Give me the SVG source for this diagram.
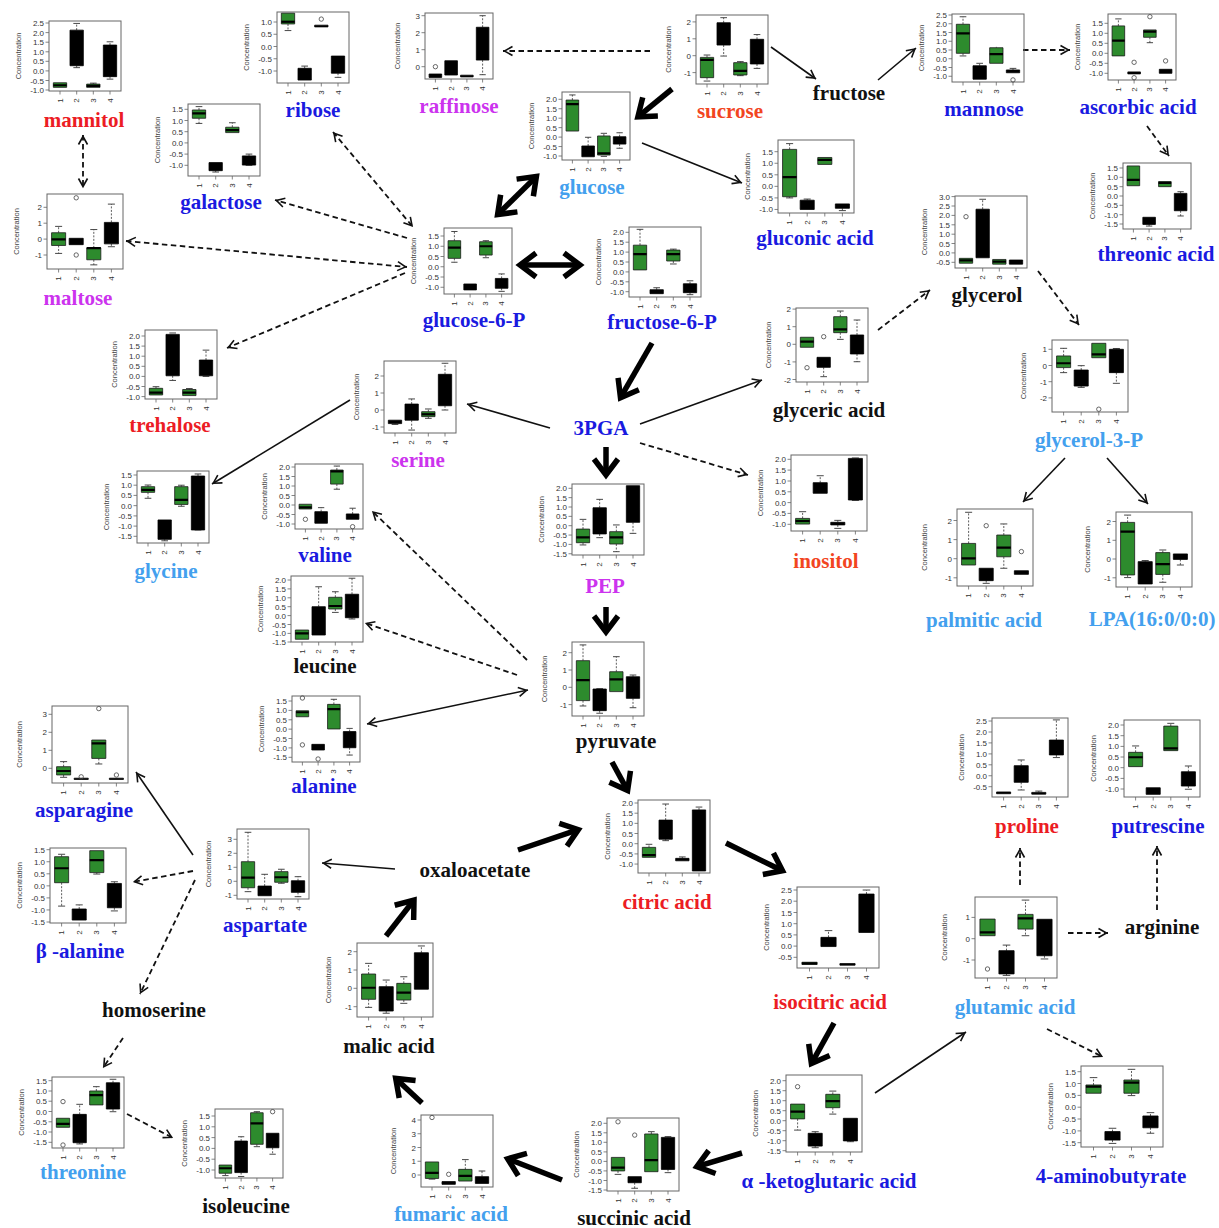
<svg xmlns="http://www.w3.org/2000/svg" width="1219" height="1228" viewBox="0 0 1219 1228">
<style>
.fr{fill:none;stroke:#666;stroke-width:1}
.tk{fill:none;stroke:#666;stroke-width:.8}
.yl,.xl,.cl,.yl tspan{font-family:"Liberation Sans",Arial,sans-serif;fill:#333;dominant-baseline:central}
.yl{font-size:8px;text-anchor:end}
.xl{font-size:8px;text-anchor:middle}
.cl{font-size:7.5px;text-anchor:middle;fill:#444}
.d path{vector-effect:non-scaling-stroke}
.w{fill:none;stroke:#333;stroke-width:.8;stroke-dasharray:2 1.5}
.s{fill:none;stroke:#333;stroke-width:.9}
.g{fill:#2d8b2d;stroke:#1a1a1a;stroke-width:.8}
.k{fill:#000;stroke:#000;stroke-width:.8}
.m{fill:none;stroke:#000;stroke-width:2.2}
.o{fill:none;stroke:#444;stroke-width:.8}
.lb{font-family:"Liberation Serif","Times New Roman",serif;font-weight:bold;font-size:21px;text-anchor:middle}
.red{fill:#ec1c24}.or{fill:#f2451f}.bl{fill:#1a1ae0}.lt{fill:#43a0ee}.mg{fill:#cc33ee}.bk{fill:#111}
.c{fill:none;stroke:#111;stroke-width:1.6}
.ds{stroke-dasharray:5.5 3.5;stroke-width:1.8}
.th{stroke:#000;stroke-width:5.5}
</style>
<defs>
<marker id="a" viewBox="-12 -7 14 14" refX="0" refY="0" markerWidth="14" markerHeight="14" markerUnits="userSpaceOnUse" orient="auto-start-reverse"><path d="M-9.5-4.5L-1.5 0L-9.5 4.5" fill="none" stroke="#111" stroke-width="1.6" stroke-dasharray="none"/></marker>
<marker id="A" viewBox="-22 -16 28 32" refX="0" refY="0" markerWidth="28" markerHeight="32" markerUnits="userSpaceOnUse" orient="auto-start-reverse"><path d="M-16-12L0 0L-16 12" fill="none" stroke="#000" stroke-width="5.5"/></marker>
<g id="x68"><path class="tk" d="M10.4 0v3.5M26.1 0v3.5M41.9 0v3.5M57.6 0v3.5"/><text class="xl" transform="translate(10.4 9.5)rotate(-90)">1</text><text class="xl" transform="translate(26.1 9.5)rotate(-90)">2</text><text class="xl" transform="translate(41.9 9.5)rotate(-90)">3</text><text class="xl" transform="translate(57.6 9.5)rotate(-90)">4</text></g>
<g id="x72"><path class="tk" d="M11 0v3.5M27.7 0v3.5M44.3 0v3.5M61 0v3.5"/><text class="xl" transform="translate(11 9.5)rotate(-90)">1</text><text class="xl" transform="translate(27.7 9.5)rotate(-90)">2</text><text class="xl" transform="translate(44.3 9.5)rotate(-90)">3</text><text class="xl" transform="translate(61 9.5)rotate(-90)">4</text></g>
<g id="x76"><path class="tk" d="M11.6 0v3.5M29.2 0v3.5M46.8 0v3.5M64.4 0v3.5"/><text class="xl" transform="translate(11.6 9.5)rotate(-90)">1</text><text class="xl" transform="translate(29.2 9.5)rotate(-90)">2</text><text class="xl" transform="translate(46.8 9.5)rotate(-90)">3</text><text class="xl" transform="translate(64.4 9.5)rotate(-90)">4</text></g>
<g id="x82"><path class="tk" d="M12.5 0v3.5M31.5 0v3.5M50.5 0v3.5M69.5 0v3.5"/><text class="xl" transform="translate(12.5 9.5)rotate(-90)">1</text><text class="xl" transform="translate(31.5 9.5)rotate(-90)">2</text><text class="xl" transform="translate(50.5 9.5)rotate(-90)">3</text><text class="xl" transform="translate(69.5 9.5)rotate(-90)">4</text></g>
</defs>
<rect width="1219" height="1228" fill="#fff"/>

<g id="connectors">
<path class="c th" marker-end="url(#A)" d="M672 89L637.9 116.8"/>
<path class="c th" marker-start="url(#A)" marker-end="url(#A)" d="M536.4 176.5L497.6 214.5"/>
<path class="c th" marker-start="url(#A)" marker-end="url(#A)" d="M520 265L580 265"/>
<path class="c th" marker-end="url(#A)" d="M652 343L620.5 397.7"/>
<path class="c th" marker-end="url(#A)" d="M606 447L606 475"/>
<path class="c th" marker-end="url(#A)" d="M606 607L606 632"/>
<path class="c th" marker-end="url(#A)" d="M612 762L627.6 790.6"/>
<path class="c th" marker-end="url(#A)" d="M726 843L782.5 870.8"/>
<path class="c th" marker-end="url(#A)" d="M834 1023L811.4 1063.6"/>
<path class="c th" marker-end="url(#A)" d="M742 1153L696.8 1166.6"/>
<path class="c th" marker-end="url(#A)" d="M562 1180L507.7 1158.8"/>
<path class="c th" marker-end="url(#A)" d="M422 1103L395.7 1078.4"/>
<path class="c th" marker-end="url(#A)" d="M386 936L414 900"/>
<path class="c th" marker-end="url(#A)" d="M518 850L578.3 829.6"/>
<path class="c" marker-end="url(#a)" d="M771 47L816 79"/>
<path class="c" marker-end="url(#a)" d="M878 80L916 48"/>
<path class="c" marker-end="url(#a)" d="M642 143L742 183"/>
<path class="c" marker-end="url(#a)" d="M550 428L467 404"/>
<path class="c" marker-end="url(#a)" d="M640 424L762 380"/>
<path class="c" marker-end="url(#a)" d="M350 400L212 484"/>
<path class="c" marker-end="url(#a)" d="M1065 458L1023 502"/>
<path class="c" marker-end="url(#a)" d="M1107 458L1148 504"/>
<path class="c" marker-start="url(#a)" marker-end="url(#a)" d="M367 724L528 690"/>
<path class="c" marker-end="url(#a)" d="M395 869L322 863"/>
<path class="c" marker-end="url(#a)" d="M193 855L136 772"/>
<path class="c" marker-end="url(#a)" d="M875 1093L966 1032"/>
<path class="c ds" marker-end="url(#a)" d="M650 51L503 51"/>
<path class="c ds" marker-end="url(#a)" d="M1023 50L1070 50"/>
<path class="c ds" marker-end="url(#a)" d="M1147 126L1169 156"/>
<path class="c ds" marker-start="url(#a)" marker-end="url(#a)" d="M333 132L413 227"/>
<path class="c ds" marker-end="url(#a)" d="M407 238L275 200"/>
<path class="c ds" marker-start="url(#a)" marker-end="url(#a)" d="M126 241L407 267"/>
<path class="c ds" marker-end="url(#a)" d="M405 273L227 348"/>
<path class="c ds" marker-start="url(#a)" marker-end="url(#a)" d="M83 135L83 188"/>
<path class="c ds" marker-end="url(#a)" d="M640 443L748 475"/>
<path class="c ds" marker-end="url(#a)" d="M878 330L930 290"/>
<path class="c ds" marker-end="url(#a)" d="M1038 271L1079 325"/>
<path class="c ds" marker-end="url(#a)" d="M527 660L372 511"/>
<path class="c ds" marker-end="url(#a)" d="M517 675L365 623"/>
<path class="c ds" marker-end="url(#a)" d="M193 871L133 882"/>
<path class="c ds" marker-end="url(#a)" d="M195 880L140 994"/>
<path class="c ds" marker-end="url(#a)" d="M123 1038L103 1068"/>
<path class="c ds" marker-end="url(#a)" d="M127 1114L173 1138"/>
<path class="c ds" marker-end="url(#a)" d="M1020 885L1020 848"/>
<path class="c ds" marker-end="url(#a)" d="M1068 933L1108 933"/>
<path class="c ds" marker-end="url(#a)" d="M1157 910L1157 846"/>
<path class="c ds" marker-end="url(#a)" d="M1047 1029L1103 1057"/>
</g>

<g id="mannitol"><g transform="translate(49 21)"><rect class="fr" width="72" height="70"/><use href="#x72" y="70"/>
<path class="tk" d="M0 2h-3.5M0 11.6h-3.5M0 21.2h-3.5M0 30.8h-3.5M0 40.3h-3.5M0 49.9h-3.5M0 59.5h-3.5M0 69h-3.5"/>
<text class="yl"><tspan x="-5" y="2">2.5</tspan><tspan x="-5" y="11.6">2.0</tspan><tspan x="-5" y="21.2">1.5</tspan><tspan x="-5" y="30.8">1.0</tspan><tspan x="-5" y="40.3">0.5</tspan><tspan x="-5" y="49.9">0.0</tspan><tspan x="-5" y="59.5">-0.5</tspan><tspan x="-5" y="69">-1.0</tspan></text>
<text class="cl" transform="translate(-31 35)rotate(-90)">Concentration</text>
<g class="d" transform="translate(0 49.9)scale(16.667 -19.14)translate(-.34 0)">
<path class="w" d="M2 2.13V2.48M2 .27V.17M3 -.69V-.64M4 1.35V1.52M4 -.3V-.43"/>
<path class="s" d="M1.8 2.48H2.2M1.8 .17H2.2M2.8 -.64H3.2M3.8 1.52H4.2M3.8 -.43H4.2"/>
<path class="g" d="M.6 -.86H1.4V-.62H.6ZM2.6 -.86H3.4V-.69H2.6Z"/>
<path class="k" d="M1.6 .27H2.4V2.13H1.6ZM3.6 -.3H4.4V1.35H3.6Z"/>
<path class="m" d="M.6 -.75H1.4M2.6 -.78H3.4"/></g></g>
<text class="lb red" x="84" y="127">mannitol</text></g>

<g id="ribose"><g transform="translate(277 12)"><rect class="fr" width="72" height="71"/><use href="#x72" y="71"/>
<path class="tk" d="M0 10h-3.5M0 22.25h-3.5M0 34.5h-3.5M0 46.75h-3.5M0 59h-3.5"/>
<text class="yl"><tspan x="-5" y="10">1.0</tspan><tspan x="-5" y="22.25">0.5</tspan><tspan x="-5" y="34.5">0.0</tspan><tspan x="-5" y="46.75">-0.5</tspan><tspan x="-5" y="59">-1.0</tspan></text>
<text class="cl" transform="translate(-31 35.5)rotate(-90)">Concentration</text>
<g class="d" transform="translate(0 34.5)scale(16.667 -24.5)translate(-.34 0)">
<path class="w" d="M1 .92V.65M2 -.89V-.8M4 -1.09V-1.26"/>
<path class="s" d="M.8 .65H1.2M1.8 -.8H2.2M3.8 -1.26H4.2"/>
<path class="g" d="M.6 .92H1.4V1.36H.6Z"/>
<path class="k" d="M1.6 -1.37H2.4V-.89H1.6ZM2.6 .8H3.4V.87H2.6ZM3.6 -1.09H4.4V-.39H3.6Z"/>
<path class="m" d="M.6 1.01H1.4"/></g>
<circle class="o" cx="44.3" cy="7.1" r="2.2"/></g>
<text class="lb bl" x="313" y="117">ribose</text></g>

<g id="galactose"><g transform="translate(188 104)"><rect class="fr" width="72" height="72"/><use href="#x72" y="72"/>
<path class="tk" d="M0 5.3h-3.5M0 16.5h-3.5M0 27.7h-3.5M0 38.9h-3.5M0 50.1h-3.5M0 61.3h-3.5"/>
<text class="yl"><tspan x="-5" y="5.3">1.5</tspan><tspan x="-5" y="16.5">1.0</tspan><tspan x="-5" y="27.7">0.5</tspan><tspan x="-5" y="38.9">0.0</tspan><tspan x="-5" y="50.1">-0.5</tspan><tspan x="-5" y="61.3">-1.0</tspan></text>
<text class="cl" transform="translate(-31 36)rotate(-90)">Concentration</text>
<g class="d" transform="translate(0 38.9)scale(16.667 -22.4)translate(-.34 0)">
<path class="w" d="M1 1.47V1.62M1 1.1V.87M2 -1.24V-1.3M3 .7V.9M4 -.58V-.5"/>
<path class="s" d="M.8 1.62H1.2M.8 .87H1.2M1.8 -1.3H2.2M2.8 .9H3.2M3.8 -.5H4.2M3.8 -1H4.2"/>
<path class="g" d="M.6 1.1H1.4V1.47H.6ZM2.6 .46H3.4V.7H2.6Z"/>
<path class="k" d="M1.6 -1.24H2.4V-.88H1.6ZM3.6 -.99H4.4V-.58H3.6Z"/>
<path class="m" d="M.6 1.32H1.4M2.6 .57H3.4"/></g></g>
<text class="lb bl" x="221" y="209">galactose</text></g>

<g id="maltose"><g transform="translate(47 194)"><rect class="fr" width="76" height="75"/><use href="#x76" y="75"/>
<path class="tk" d="M0 13.3h-3.5M0 29.2h-3.5M0 45.1h-3.5M0 61h-3.5"/>
<text class="yl"><tspan x="-5" y="13.3">2</tspan><tspan x="-5" y="29.2">1</tspan><tspan x="-5" y="45.1">0</tspan><tspan x="-5" y="61">-1</tspan></text>
<text class="cl" transform="translate(-31 37.5)rotate(-90)">Concentration</text>
<g class="d" transform="translate(0 45.1)scale(17.593 -15.9)translate(-.34 0)">
<path class="w" d="M1 .4V.8M1 -.4V-.9M3 -.55V.6M3 -1.3V-1.62M4 1.05V2.2M4 -.3V-.48"/>
<path class="s" d="M.8 .8H1.2M.8 -.9H1.2M2.8 .6H3.2M2.8 -1.62H3.2M3.8 2.2H4.2M3.8 -.48H4.2"/>
<path class="g" d="M.6 -.4H1.4V.4H.6ZM2.6 -1.3H3.4V-.55H2.6Z"/>
<path class="k" d="M1.6 -.35H2.4V.05H1.6ZM3.6 -.3H4.4V1.05H3.6Z"/>
<path class="m" d="M.6 -.02H1.4M2.6 -.57H3.4"/></g>
<circle class="o" cx="29.2" cy="3.8" r="2.2"/><circle class="o" cx="29.2" cy="61" r="2.2"/></g>
<text class="lb mg" x="78" y="305">maltose</text></g>

<g id="trehalose"><g transform="translate(145 330)"><rect class="fr" width="72" height="69"/><use href="#x72" y="69"/>
<path class="tk" d="M0 6h-3.5M0 16.1h-3.5M0 26.2h-3.5M0 36.3h-3.5M0 46.4h-3.5M0 56.5h-3.5M0 66.6h-3.5"/>
<text class="yl"><tspan x="-5" y="6">2.0</tspan><tspan x="-5" y="16.1">1.5</tspan><tspan x="-5" y="26.2">1.0</tspan><tspan x="-5" y="36.3">0.5</tspan><tspan x="-5" y="46.4">0.0</tspan><tspan x="-5" y="56.5">-0.5</tspan><tspan x="-5" y="66.6">-1.0</tspan></text>
<text class="cl" transform="translate(-31 34.5)rotate(-90)">Concentration</text>
<g class="d" transform="translate(0 46.4)scale(16.667 -20.2)translate(-.34 0)">
<path class="w" d="M1 -.59V-.51M2 .03V-.2M3 -.65V-.6M4 .81V1.3"/>
<path class="s" d="M.8 -.51H1.2M1.8 2.15H2.2M1.8 -.2H2.2M2.8 -.6H3.2M3.8 1.3H4.2M3.8 0H4.2"/>
<path class="g" d="M.6 -.92H1.4V-.59H.6ZM2.6 -.95H3.4V-.65H2.6Z"/>
<path class="k" d="M1.6 .03H2.4V2.08H1.6ZM3.6 .03H4.4V.81H3.6Z"/>
<path class="m" d="M.6 -.8H1.4M2.6 -.8H3.4"/></g></g>
<text class="lb red" x="170" y="432">trehalose</text></g>

<g id="raffinose"><g transform="translate(425 13)"><rect class="fr" width="68" height="66"/><use href="#x68" y="66"/>
<path class="tk" d="M0 2.7h-3.5M0 19.7h-3.5M0 36.7h-3.5M0 53.7h-3.5"/>
<text class="yl"><tspan x="-5" y="2.7">3</tspan><tspan x="-5" y="19.7">2</tspan><tspan x="-5" y="36.7">1</tspan><tspan x="-5" y="53.7">0</tspan></text>
<text class="cl" transform="translate(-28 33)rotate(-90)">Concentration</text>
<g class="d" transform="translate(0 53.7)scale(15.741 -17)translate(-.34 0)">
<path class="w" d="M4 2.32V3M4 .39V-.47"/>
<path class="s" d="M3.8 3H4.2M3.8 -.47H4.2"/>
<path class="k" d="M.6 -.63H1.4V-.43H.6ZM1.6 -.49H2.4V.35H1.6ZM2.6 -.6H3.4V-.5H2.6ZM3.6 .39H4.4V2.32H3.6Z"/></g>
<circle class="o" cx="10.4" cy="53.7" r="2.2"/></g>
<text class="lb mg" x="459" y="113">raffinose</text></g>

<g id="sucrose"><g transform="translate(696 15)"><rect class="fr" width="72" height="69"/><use href="#x72" y="69"/>
<path class="tk" d="M0 6.9h-3.5M0 23.8h-3.5M0 40.7h-3.5M0 57.6h-3.5"/>
<text class="yl"><tspan x="-5" y="6.9">2</tspan><tspan x="-5" y="23.8">1</tspan><tspan x="-5" y="40.7">0</tspan><tspan x="-5" y="57.6">-1</tspan></text>
<text class="cl" transform="translate(-28 34.5)rotate(-90)">Concentration</text>
<g class="d" transform="translate(0 40.7)scale(16.667 -16.9)translate(-.34 0)">
<path class="w" d="M1 -.1V.04M1 -1.3V-1.5M2 1.95V2.25M2 .63V-.02M3 -.41V-.35M3 -1.14V-1.18M4 .97V1.25M4 -.49V-.75"/>
<path class="s" d="M.8 .04H1.2M.8 -1.5H1.2M1.8 2.25H2.2M1.8 -.02H2.2M2.8 -.35H3.2M2.8 -1.18H3.2M3.8 1.25H4.2M3.8 -.75H4.2"/>
<path class="g" d="M.6 -1.3H1.4V-.1H.6ZM2.6 -1.14H3.4V-.41H2.6Z"/>
<path class="k" d="M1.6 .63H2.4V1.95H1.6ZM3.6 -.49H4.4V.97H3.6Z"/>
<path class="m" d="M.6 -.25H1.4M2.6 -.9H3.4"/></g></g>
<text class="lb or" x="730" y="118">sucrose</text></g>

<g id="glucose"><g transform="translate(562 92)"><rect class="fr" width="68" height="68"/><use href="#x68" y="68"/>
<path class="tk" d="M0 7.3h-3.5M0 16.75h-3.5M0 26.2h-3.5M0 35.65h-3.5M0 45.1h-3.5M0 54.55h-3.5M0 64h-3.5"/>
<text class="yl"><tspan x="-5" y="7.3">2.0</tspan><tspan x="-5" y="16.75">1.5</tspan><tspan x="-5" y="26.2">1.0</tspan><tspan x="-5" y="35.65">0.5</tspan><tspan x="-5" y="45.1">0.0</tspan><tspan x="-5" y="54.55">-0.5</tspan><tspan x="-5" y="64">-1.0</tspan></text>
<text class="cl" transform="translate(-31 34)rotate(-90)">Concentration</text>
<g class="d" transform="translate(0 45.1)scale(15.741 -18.9)translate(-.34 0)">
<path class="w" d="M1 1.96V2.23M2 -.47V-.01M3 .06V.2M4 .02V.23M4 -.37V-.59"/>
<path class="s" d="M.8 2.23H1.2M1.8 -.01H2.2M2.8 .2H3.2M2.8 -1.02H3.2M3.8 .23H4.2M3.8 -.59H4.2"/>
<path class="g" d="M.6 .32H1.4V1.96H.6ZM2.6 -.95H3.4V.06H2.6Z"/>
<path class="k" d="M1.6 -1.04H2.4V-.47H1.6ZM3.6 -.37H4.4V.02H3.6Z"/>
<path class="m" d="M.6 1.75H1.4M2.6 -.86H3.4"/></g></g>
<text class="lb lt" x="592" y="194">glucose</text></g>

<g id="glucose-6-P"><g transform="translate(444 228)"><rect class="fr" width="68" height="66"/><use href="#x68" y="66"/>
<path class="tk" d="M0 8h-3.5M0 18.25h-3.5M0 28.5h-3.5M0 38.75h-3.5M0 49h-3.5M0 59.25h-3.5"/>
<text class="yl"><tspan x="-5" y="8">1.5</tspan><tspan x="-5" y="18.25">1.0</tspan><tspan x="-5" y="28.5">0.5</tspan><tspan x="-5" y="38.75">0.0</tspan><tspan x="-5" y="49">-0.5</tspan><tspan x="-5" y="59.25">-1.0</tspan></text>
<text class="cl" transform="translate(-31 33)rotate(-90)">Concentration</text>
<g class="d" transform="translate(0 38.75)scale(15.741 -20.5)translate(-.34 0)">
<path class="w" d="M1 1.27V1.72M1 .41V.22M3 1.22V1.27M3 .57V.44M4 -.57V-.35M4 -1.05V-1.2"/>
<path class="s" d="M.8 1.72H1.2M.8 .22H1.2M2.8 1.27H3.2M2.8 .44H3.2M3.8 -.35H4.2M3.8 -1.2H4.2"/>
<path class="g" d="M.6 .41H1.4V1.27H.6ZM2.6 .57H3.4V1.22H2.6Z"/>
<path class="k" d="M1.6 -1.13H2.4V-.84H1.6ZM3.6 -1.05H4.4V-.57H3.6Z"/>
<path class="m" d="M.6 .93H1.4M2.6 1H3.4"/></g></g>
<text class="lb bl" x="474" y="327">glucose-6-P</text></g>

<g id="fructose-6-P"><g transform="translate(629 227)"><rect class="fr" width="72" height="70"/><use href="#x72" y="70"/>
<path class="tk" d="M0 5.3h-3.5M0 15.2h-3.5M0 25.1h-3.5M0 35h-3.5M0 44.9h-3.5M0 54.8h-3.5M0 64.7h-3.5"/>
<text class="yl"><tspan x="-5" y="5.3">2.0</tspan><tspan x="-5" y="15.2">1.5</tspan><tspan x="-5" y="25.1">1.0</tspan><tspan x="-5" y="35">0.5</tspan><tspan x="-5" y="44.9">0.0</tspan><tspan x="-5" y="54.8">-0.5</tspan><tspan x="-5" y="64.7">-1.0</tspan></text>
<text class="cl" transform="translate(-31 35)rotate(-90)">Concentration</text>
<g class="d" transform="translate(0 44.9)scale(16.667 -19.8)translate(-.34 0)">
<path class="w" d="M1 1.35V2.15M2 -.9V-.8M3 1.1V1.15M3 .55V.4M4 -.6V-.45M4 -1.05V-1.15"/>
<path class="s" d="M.8 2.15H1.2M1.8 -.8H2.2M2.8 1.15H3.2M2.8 .4H3.2M3.8 -.45H4.2M3.8 -1.15H4.2"/>
<path class="g" d="M.6 .1H1.4V1.35H.6ZM2.6 .55H3.4V1.1H2.6Z"/>
<path class="k" d="M1.6 -1.1H2.4V-.9H1.6ZM3.6 -1.05H4.4V-.6H3.6Z"/>
<path class="m" d="M.6 .9H1.4M2.6 .9H3.4"/></g></g>
<text class="lb bl" x="662" y="329">fructose-6-P</text></g>

<g id="gluconic-acid"><g transform="translate(778 140)"><rect class="fr" width="76" height="73"/><use href="#x76" y="73"/>
<path class="tk" d="M0 11.7h-3.5M0 23.25h-3.5M0 34.8h-3.5M0 46.35h-3.5M0 57.9h-3.5M0 69.45h-3.5"/>
<text class="yl"><tspan x="-5" y="11.7">1.5</tspan><tspan x="-5" y="23.25">1.0</tspan><tspan x="-5" y="34.8">0.5</tspan><tspan x="-5" y="46.35">0.0</tspan><tspan x="-5" y="57.9">-0.5</tspan><tspan x="-5" y="69.45">-1.0</tspan></text>
<text class="cl" transform="translate(-31 36.5)rotate(-90)">Concentration</text>
<g class="d" transform="translate(0 46.35)scale(17.593 -23.1)translate(-.34 0)">
<path class="w" d="M1 1.6V1.85M1 -.45V-.5M2 -.6V-.55M4 -.95V-1.05"/>
<path class="s" d="M.8 1.85H1.2M.8 -.5H1.2M1.8 -.55H2.2M3.8 -1.05H4.2"/>
<path class="g" d="M.6 -.45H1.4V1.6H.6ZM2.6 .95H3.4V1.25H2.6Z"/>
<path class="k" d="M1.6 -1H2.4V-.6H1.6ZM3.6 -.95H4.4V-.76H3.6Z"/>
<path class="m" d="M.6 .4H1.4M2.6 1.15H3.4"/></g></g>
<text class="lb bl" x="815" y="245">gluconic acid</text></g>

<g id="serine"><g transform="translate(384 361)"><rect class="fr" width="72" height="72"/><use href="#x72" y="72"/>
<path class="tk" d="M0 15h-3.5M0 32h-3.5M0 49h-3.5M0 66h-3.5"/>
<text class="yl"><tspan x="-5" y="15">2</tspan><tspan x="-5" y="32">1</tspan><tspan x="-5" y="49">0</tspan><tspan x="-5" y="66">-1</tspan></text>
<text class="cl" transform="translate(-28 36)rotate(-90)">Concentration</text>
<g class="d" transform="translate(0 49)scale(16.667 -17)translate(-.34 0)">
<path class="w" d="M1 -.8V-.85M2 .35V.65M2 -.6V-1.18M3 -.1V.06M3 -.39V-.49M4 2.1V2.75M4 .25V0"/>
<path class="s" d="M.8 -.85H1.2M1.8 .65H2.2M1.8 -1.18H2.2M2.8 .06H3.2M2.8 -.49H3.2M3.8 2.75H4.2M3.8 0H4.2"/>
<path class="g" d="M2.6 -.39H3.4V-.1H2.6Z"/>
<path class="k" d="M.6 -.8H1.4V-.6H.6ZM1.6 -.6H2.4V.35H1.6ZM3.6 .25H4.4V2.1H3.6Z"/>
<path class="m" d="M2.6 -.25H3.4"/></g></g>
<text class="lb mg" x="418" y="467">serine</text></g>

<g id="mannose"><g transform="translate(952 14)"><rect class="fr" width="72" height="68"/><use href="#x72" y="68"/>
<path class="tk" d="M0 1h-3.5M0 9.75h-3.5M0 18.5h-3.5M0 27.25h-3.5M0 36h-3.5M0 44.75h-3.5M0 53.5h-3.5M0 62.25h-3.5"/>
<text class="yl"><tspan x="-5" y="1">2.5</tspan><tspan x="-5" y="9.75">2.0</tspan><tspan x="-5" y="18.5">1.5</tspan><tspan x="-5" y="27.25">1.0</tspan><tspan x="-5" y="36">0.5</tspan><tspan x="-5" y="44.75">0.0</tspan><tspan x="-5" y="53.5">-0.5</tspan><tspan x="-5" y="62.25">-1.0</tspan></text>
<text class="cl" transform="translate(-31 34)rotate(-90)">Concentration</text>
<g class="d" transform="translate(0 44.75)scale(16.667 -17.5)translate(-.34 0)">
<path class="w" d="M1 1.97V2.4M1 .31V.16M2 -.4V-.26M3 .63V.68M4 -.64V-.55"/>
<path class="s" d="M.8 2.4H1.2M.8 .16H1.2M1.8 -.26H2.2M3.8 -.55H4.2"/>
<path class="g" d="M.6 .31H1.4V1.97H.6ZM2.6 -.26H3.4V.63H2.6Z"/>
<path class="k" d="M1.6 -1.17H2.4V-.4H1.6ZM3.6 -.8H4.4V-.64H3.6Z"/>
<path class="m" d="M.6 1.45H1.4M2.6 .27H3.4"/></g>
<circle class="o" cx="61" cy="65.9" r="2.2"/></g>
<text class="lb bl" x="984" y="116">mannose</text></g>

<g id="ascorbic-acid"><g transform="translate(1108 14)"><rect class="fr" width="68" height="66"/><use href="#x68" y="66"/>
<path class="tk" d="M0 9.3h-3.5M0 19.3h-3.5M0 29.3h-3.5M0 39.3h-3.5M0 49.3h-3.5M0 59.3h-3.5"/>
<text class="yl"><tspan x="-5" y="9.3">1.5</tspan><tspan x="-5" y="19.3">1.0</tspan><tspan x="-5" y="29.3">0.5</tspan><tspan x="-5" y="39.3">0.0</tspan><tspan x="-5" y="49.3">-0.5</tspan><tspan x="-5" y="59.3">-1.0</tspan></text>
<text class="cl" transform="translate(-31 33)rotate(-90)">Concentration</text>
<g class="d" transform="translate(0 39.3)scale(15.741 -20)translate(-.34 0)">
<path class="w" d="M1 1.37V1.72M3 .8V.53"/>
<path class="s" d="M.8 1.72H1.2M2.8 .53H3.2"/>
<path class="g" d="M.6 -.13H1.4V1.37H.6ZM2.6 .8H3.4V1.17H2.6Z"/>
<path class="k" d="M1.6 -1.03H2.4V-.93H1.6ZM3.6 -1H4.4V-.8H3.6Z"/>
<path class="m" d="M.6 .63H1.4M2.6 1.08H3.4"/></g>
<circle class="o" cx="26.1" cy="48.3" r="2.2"/><circle class="o" cx="26.1" cy="63.7" r="2.2"/><circle class="o" cx="41.9" cy="2.7" r="2.2"/><circle class="o" cx="57.6" cy="46.9" r="2.2"/></g>
<text class="lb bl" x="1138" y="114">ascorbic acid</text></g>

<g id="threonic-acid"><g transform="translate(1123 163)"><rect class="fr" width="68" height="66"/><use href="#x68" y="66"/>
<path class="tk" d="M0 5h-3.5M0 14.3h-3.5M0 23.7h-3.5M0 33h-3.5M0 42.3h-3.5M0 51.7h-3.5M0 61h-3.5"/>
<text class="yl"><tspan x="-5" y="5">1.5</tspan><tspan x="-5" y="14.3">1.0</tspan><tspan x="-5" y="23.7">0.5</tspan><tspan x="-5" y="33">0.0</tspan><tspan x="-5" y="42.3">-0.5</tspan><tspan x="-5" y="51.7">-1.0</tspan><tspan x="-5" y="61">-1.5</tspan></text>
<text class="cl" transform="translate(-31 33)rotate(-90)">Concentration</text>
<g class="d" transform="translate(0 33)scale(15.741 -18.67)translate(-.34 0)">
<path class="w" d="M2 -1.52V-1.61M4 .14V.23M4 -.79V-1.07"/>
<path class="s" d="M1.8 -1.61H2.2M3.8 .23H4.2M3.8 -1.07H4.2"/>
<path class="g" d="M.6 .55H1.4V1.61H.6ZM2.6 .5H3.4V.77H2.6Z"/>
<path class="k" d="M1.6 -1.52H2.4V-1.14H1.6ZM3.6 -.79H4.4V.14H3.6Z"/>
<path class="m" d="M.6 .86H1.4M2.6 .7H3.4"/></g></g>
<text class="lb bl" x="1156" y="261">threonic acid</text></g>

<g id="glycerol"><g transform="translate(955 196)"><rect class="fr" width="72" height="72"/><use href="#x72" y="72"/>
<path class="tk" d="M0 .6h-3.5M0 10h-3.5M0 19.4h-3.5M0 28.8h-3.5M0 38.2h-3.5M0 47.5h-3.5M0 56.9h-3.5M0 66.3h-3.5"/>
<text class="yl"><tspan x="-5" y="1">3.0</tspan><tspan x="-5" y="10">2.5</tspan><tspan x="-5" y="19.4">2.0</tspan><tspan x="-5" y="28.8">1.5</tspan><tspan x="-5" y="38.2">1.0</tspan><tspan x="-5" y="47.5">0.5</tspan><tspan x="-5" y="56.9">0.0</tspan><tspan x="-5" y="66.3">-0.5</tspan></text>
<text class="cl" transform="translate(-31 36)rotate(-90)">Concentration</text>
<g class="d" transform="translate(0 56.9)scale(16.667 -18.75)translate(-.34 0)">
<path class="w" d="M2 2.33V2.86"/>
<path class="s" d="M1.8 2.86H2.2"/>
<path class="g" d="M.6 -.55H1.4V-.29H.6ZM2.6 -.6H3.4V-.35H2.6Z"/>
<path class="k" d="M1.6 -.26H2.4V2.33H1.6ZM3.6 -.6H4.4V-.38H3.6Z"/>
<path class="m" d="M.6 -.4H1.4M2.6 -.47H3.4"/></g>
<circle class="o" cx="11" cy="20.7" r="2.2"/></g>
<text class="lb bk" x="987" y="302">glycerol</text></g>

<g id="glyceric-acid"><g transform="translate(796 308)"><rect class="fr" width="72" height="74"/><use href="#x72" y="74"/>
<path class="tk" d="M0 1.1h-3.5M0 18.7h-3.5M0 36.3h-3.5M0 53.9h-3.5M0 71.5h-3.5"/>
<text class="yl"><tspan x="-5" y="1.1">2</tspan><tspan x="-5" y="18.7">1</tspan><tspan x="-5" y="36.3">0</tspan><tspan x="-5" y="53.9">-1</tspan><tspan x="-5" y="71.5">-2</tspan></text>
<text class="cl" transform="translate(-28 37)rotate(-90)">Concentration</text>
<g class="d" transform="translate(0 36.3)scale(16.667 -17.6)translate(-.34 0)">
<path class="w" d="M2 -1.31V-1.84M3 1.57V1.89M3 .66V.28M4 .53V1.38M4 -.55V-.99"/>
<path class="s" d="M1.8 -1.84H2.2M2.8 1.89H3.2M2.8 .28H3.2M3.8 1.38H4.2M3.8 -.99H4.2"/>
<path class="g" d="M.6 -.17H1.4V.4H.6ZM2.6 .66H3.4V1.57H2.6Z"/>
<path class="k" d="M1.6 -1.31H2.4V-.74H1.6ZM3.6 -.55H4.4V.53H3.6Z"/>
<path class="m" d="M.6 .15H1.4M2.6 .85H3.4"/></g>
<circle class="o" cx="11" cy="59.7" r="2.2"/><circle class="o" cx="27.7" cy="28.7" r="2.2"/></g>
<text class="lb bk" x="829" y="417">glyceric acid</text></g>

<g id="glycerol-3-P"><g transform="translate(1052 340)"><rect class="fr" width="76" height="72"/><use href="#x76" y="72"/>
<path class="tk" d="M0 9.3h-3.5M0 25.5h-3.5M0 41.7h-3.5M0 57.9h-3.5"/>
<text class="yl"><tspan x="-5" y="9.3">1</tspan><tspan x="-5" y="25.5">0</tspan><tspan x="-5" y="41.7">-1</tspan><tspan x="-5" y="57.9">-2</tspan></text>
<text class="cl" transform="translate(-29 36)rotate(-90)">Concentration</text>
<g class="d" transform="translate(0 25.5)scale(17.593 -16.2)translate(-.34 0)">
<path class="w" d="M1 .59V1.06M1 -.13V-.44M2 -.28V-.01M2 -1.27V-1.35M4 1V1.05M4 -.44V-1.1"/>
<path class="s" d="M.8 1.06H1.2M.8 -.44H1.2M1.8 -.01H2.2M1.8 -1.35H2.2M3.8 1.05H4.2M3.8 -1.1H4.2"/>
<path class="g" d="M.6 -.13H1.4V.59H.6ZM2.6 .48H3.4V1.37H2.6Z"/>
<path class="k" d="M1.6 -1.27H2.4V-.28H1.6ZM3.6 -.44H4.4V1H3.6Z"/>
<path class="m" d="M.6 .14H1.4M2.6 .69H3.4"/></g>
<circle class="o" cx="46.8" cy="69.2" r="2.2"/></g>
<text class="lb lt" x="1089" y="447">glycerol-3-P</text></g>

<g id="glycine"><g transform="translate(137 471)"><rect class="fr" width="72" height="72"/><use href="#x72" y="72"/>
<path class="tk" d="M0 4h-3.5M0 14.2h-3.5M0 24.4h-3.5M0 34.65h-3.5M0 44.9h-3.5M0 55.1h-3.5M0 65.3h-3.5"/>
<text class="yl"><tspan x="-5" y="4">1.5</tspan><tspan x="-5" y="14.2">1.0</tspan><tspan x="-5" y="24.4">0.5</tspan><tspan x="-5" y="34.65">0.0</tspan><tspan x="-5" y="44.9">-0.5</tspan><tspan x="-5" y="55.1">-1.0</tspan><tspan x="-5" y="65.3">-1.5</tspan></text>
<text class="cl" transform="translate(-31 36)rotate(-90)">Concentration</text>
<g class="d" transform="translate(0 34.65)scale(16.667 -20.43)translate(-.34 0)">
<path class="w" d="M1 .93V1.01M1 .65V.36M2 -1.65V-1.72M3 .93V1M3 .06V-.03M4 1.45V1.55"/>
<path class="s" d="M.8 1.01H1.2M.8 .36H1.2M1.8 -1.72H2.2M2.8 1H3.2M2.8 -.03H3.2M3.8 1.55H4.2M3.8 -1.19H4.2"/>
<path class="g" d="M.6 .65H1.4V.93H.6ZM2.6 .06H3.4V.93H2.6Z"/>
<path class="k" d="M1.6 -1.65H2.4V-.7H1.6ZM3.6 -1.19H4.4V1.45H3.6Z"/>
<path class="m" d="M.6 .77H1.4M2.6 .28H3.4"/></g></g>
<text class="lb lt" x="166" y="578">glycine</text></g>

<g id="valine"><g transform="translate(295 464)"><rect class="fr" width="68" height="65"/><use href="#x68" y="65"/>
<path class="tk" d="M0 3h-3.5M0 12.5h-3.5M0 22h-3.5M0 31.5h-3.5M0 41h-3.5M0 50.5h-3.5M0 60h-3.5"/>
<text class="yl"><tspan x="-5" y="3">2.0</tspan><tspan x="-5" y="12.5">1.5</tspan><tspan x="-5" y="22">1.0</tspan><tspan x="-5" y="31.5">0.5</tspan><tspan x="-5" y="41">0.0</tspan><tspan x="-5" y="50.5">-0.5</tspan><tspan x="-5" y="60">-1.0</tspan></text>
<text class="cl" transform="translate(-31 32.5)rotate(-90)">Concentration</text>
<g class="d" transform="translate(0 41)scale(15.741 -19)translate(-.34 0)">
<path class="w" d="M2 -.35V-.14M3 1.84V2.05M3 1.1V.83M4 -.47V-.17"/>
<path class="s" d="M1.8 -.14H2.2M2.8 2.05H3.2M2.8 .83H3.2M3.8 -.17H4.2"/>
<path class="g" d="M.6 -.21H1.4V.04H.6ZM2.6 1.1H3.4V1.84H2.6Z"/>
<path class="k" d="M1.6 -.96H2.4V-.35H1.6ZM3.6 -.75H4.4V-.47H3.6Z"/>
<path class="m" d="M.6 -.12H1.4M2.6 1.77H3.4"/></g>
<circle class="o" cx="10.4" cy="55.3" r="2.2"/><circle class="o" cx="57.6" cy="62.7" r="2.2"/></g>
<text class="lb bl" x="325" y="562">valine</text></g>

<g id="leucine"><g transform="translate(291 576)"><rect class="fr" width="72" height="66"/><use href="#x72" y="66"/>
<path class="tk" d="M0 4h-3.5M0 12.9h-3.5M0 21.8h-3.5M0 30.7h-3.5M0 39.6h-3.5M0 48.5h-3.5M0 57.4h-3.5M0 66h-3.5"/>
<text class="yl"><tspan x="-5" y="4">2.0</tspan><tspan x="-5" y="12.9">1.5</tspan><tspan x="-5" y="21.8">1.0</tspan><tspan x="-5" y="30.7">0.5</tspan><tspan x="-5" y="39.6">0.0</tspan><tspan x="-5" y="48.5">-0.5</tspan><tspan x="-5" y="57.4">-1.0</tspan><tspan x="-5" y="66">-1.5</tspan></text>
<text class="cl" transform="translate(-31 33)rotate(-90)">Concentration</text>
<g class="d" transform="translate(0 39.6)scale(16.667 -17.8)translate(-.34 0)">
<path class="w" d="M2 .5V1.62M3 1.03V1.34M3 .37V.18M4 1.2V2.1M4 -.12V-.19"/>
<path class="s" d="M1.8 1.62H2.2M2.8 1.34H3.2M2.8 .18H3.2M3.8 2.1H4.2M3.8 -.19H4.2"/>
<path class="g" d="M.6 -1.33H1.4V-.81H.6ZM2.6 .37H3.4V1.03H2.6Z"/>
<path class="k" d="M1.6 -1.09H2.4V.5H1.6ZM3.6 -.12H4.4V1.2H3.6Z"/>
<path class="m" d="M.6 -1H1.4M2.6 .54H3.4"/></g></g>
<text class="lb bk" x="325" y="673">leucine</text></g>

<g id="alanine"><g transform="translate(292 696)"><rect class="fr" width="68" height="66"/><use href="#x68" y="66"/>
<path class="tk" d="M0 5h-3.5M0 14.4h-3.5M0 23.8h-3.5M0 33.15h-3.5M0 42.5h-3.5M0 51.9h-3.5M0 61.3h-3.5"/>
<text class="yl"><tspan x="-5" y="5">1.5</tspan><tspan x="-5" y="14.4">1.0</tspan><tspan x="-5" y="23.8">0.5</tspan><tspan x="-5" y="33.15">0.0</tspan><tspan x="-5" y="42.5">-0.5</tspan><tspan x="-5" y="51.9">-1.0</tspan><tspan x="-5" y="61.3">-1.5</tspan></text>
<text class="cl" transform="translate(-31 33)rotate(-90)">Concentration</text>
<g class="d" transform="translate(0 33.15)scale(15.741 -18.77)translate(-.34 0)">
<path class="w" d="M3 1.32V1.59M4 -.13V.04M4 -.99V-1.38"/>
<path class="s" d="M2.8 1.59H3.2M3.8 .04H4.2M3.8 -1.38H4.2"/>
<path class="g" d="M.6 .66H1.4V.98H.6ZM2.6 .01H3.4V1.32H2.6Z"/>
<path class="k" d="M1.6 -1.11H2.4V-.81H1.6ZM3.6 -.99H4.4V-.13H3.6Z"/>
<path class="m" d="M.6 .9H1.4M2.6 1.07H3.4"/></g>
<circle class="o" cx="10.4" cy="2" r="2.2"/><circle class="o" cx="10.4" cy="48.9" r="2.2"/><circle class="o" cx="26.1" cy="63" r="2.2"/></g>
<text class="lb bl" x="324" y="793">alanine</text></g>

<g id="asparagine"><g transform="translate(52 706)"><rect class="fr" width="76" height="77"/><use href="#x76" y="77"/>
<path class="tk" d="M0 8.3h-3.5M0 26.3h-3.5M0 44.3h-3.5M0 62.3h-3.5"/>
<text class="yl"><tspan x="-5" y="8.3">3</tspan><tspan x="-5" y="26.3">2</tspan><tspan x="-5" y="44.3">1</tspan><tspan x="-5" y="62.3">0</tspan></text>
<text class="cl" transform="translate(-33 38.5)rotate(-90)">Concentration</text>
<g class="d" transform="translate(0 62.3)scale(17.593 -18)translate(-.34 0)">
<path class="w" d="M1 .09V.37M1 -.37V-.5M3 .55V.24"/>
<path class="s" d="M.8 .37H1.2M.8 -.5H1.2M2.8 .24H3.2"/>
<path class="g" d="M.6 -.37H1.4V.09H.6ZM2.6 .55H3.4V1.57H2.6Z"/>
<path class="k" d="M1.6 -.62H2.4V-.55H1.6ZM3.6 -.62H4.4V-.55H3.6Z"/>
<path class="m" d="M.6 -.15H1.4M2.6 1.39H3.4"/></g>
<circle class="o" cx="29.2" cy="70.8" r="2.2"/><circle class="o" cx="46.8" cy="2.6" r="2.2"/><circle class="o" cx="64.4" cy="69" r="2.2"/></g>
<text class="lb bl" x="84" y="817">asparagine</text></g>

<g id="PEP"><g transform="translate(572 484)"><rect class="fr" width="72" height="71"/><use href="#x72" y="71"/>
<path class="tk" d="M0 4.3h-3.5M0 13.65h-3.5M0 23h-3.5M0 32.35h-3.5M0 41.7h-3.5M0 51.05h-3.5M0 60.4h-3.5M0 69.75h-3.5"/>
<text class="yl"><tspan x="-5" y="4.3">2.0</tspan><tspan x="-5" y="13.65">1.5</tspan><tspan x="-5" y="23">1.0</tspan><tspan x="-5" y="32.35">0.5</tspan><tspan x="-5" y="41.7">0.0</tspan><tspan x="-5" y="51.05">-0.5</tspan><tspan x="-5" y="60.4">-1.0</tspan><tspan x="-5" y="69.75">-1.5</tspan></text>
<text class="cl" transform="translate(-31 35.5)rotate(-90)">Concentration</text>
<g class="d" transform="translate(0 41.7)scale(16.667 -18.69)translate(-.34 0)">
<path class="w" d="M1 -.18V.34M1 -.91V-1.03M2 .96V1.41M2 -.44V-.64M3 -.32V.04M3 -.98V-1.39M4 .18V-.41"/>
<path class="s" d="M.8 .34H1.2M.8 -1.03H1.2M1.8 1.41H2.2M1.8 -.64H2.2M2.8 .04H3.2M2.8 -1.39H3.2M3.8 -.41H4.2"/>
<path class="g" d="M.6 -.91H1.4V-.18H.6ZM2.6 -.98H3.4V-.32H2.6Z"/>
<path class="k" d="M1.6 -.44H2.4V.96H1.6ZM3.6 .18H4.4V2.14H3.6Z"/>
<path class="m" d="M.6 -.62H1.4M2.6 -.62H3.4"/></g></g>
<text class="lb mg" x="605" y="593">PEP</text></g>

<g id="pyruvate"><g transform="translate(572 642)"><rect class="fr" width="72" height="74"/><use href="#x72" y="74"/>
<path class="tk" d="M0 10.7h-3.5M0 28h-3.5M0 45.3h-3.5M0 62.6h-3.5"/>
<text class="yl"><tspan x="-5" y="10.7">2</tspan><tspan x="-5" y="28">1</tspan><tspan x="-5" y="45.3">0</tspan><tspan x="-5" y="62.6">-1</tspan></text>
<text class="cl" transform="translate(-28 37)rotate(-90)">Concentration</text>
<g class="d" transform="translate(0 45.3)scale(16.667 -17.3)translate(-.34 0)">
<path class="w" d="M1 1.54V2.45M1 -.77V-1.08M2 -1.35V-1.5M3 .9V1.77M4 .61V.71M4 -.64V-1.18"/>
<path class="s" d="M.8 2.45H1.2M.8 -1.08H1.2M1.8 -1.5H2.2M1.8 -.08H2.2M2.8 1.77H3.2M3.8 .71H4.2M3.8 -1.18H4.2"/>
<path class="g" d="M.6 -.77H1.4V1.54H.6ZM2.6 -.25H3.4V.9H2.6Z"/>
<path class="k" d="M1.6 -1.35H2.4V-.1H1.6ZM3.6 -.64H4.4V.61H3.6Z"/>
<path class="m" d="M.6 .42H1.4M2.6 .46H3.4"/></g></g>
<text class="lb bk" x="616" y="748">pyruvate</text></g>

<g id="inositol"><g transform="translate(791 455)"><rect class="fr" width="76" height="76"/><use href="#x76" y="76"/>
<path class="tk" d="M0 4.3h-3.5M0 15.1h-3.5M0 26h-3.5M0 36.8h-3.5M0 47.6h-3.5M0 58.4h-3.5M0 69.3h-3.5"/>
<text class="yl"><tspan x="-5" y="4.3">2.0</tspan><tspan x="-5" y="15.1">1.5</tspan><tspan x="-5" y="26">1.0</tspan><tspan x="-5" y="36.8">0.5</tspan><tspan x="-5" y="47.6">0.0</tspan><tspan x="-5" y="58.4">-0.5</tspan><tspan x="-5" y="69.3">-1.0</tspan></text>
<text class="cl" transform="translate(-31 38)rotate(-90)">Concentration</text>
<g class="d" transform="translate(0 47.6)scale(17.593 -21.67)translate(-.34 0)">
<path class="w" d="M1 -.73V-.42M2 .92V1.24M3 -.91V-.82M3 -1.03V-1.19"/>
<path class="s" d="M.8 -.42H1.2M1.8 1.24H2.2M2.8 -.82H3.2M2.8 -1.19H3.2M3.8 2.06H4.2M3.8 .1H4.2"/>
<path class="g" d="M.6 -.99H1.4V-.73H.6Z"/>
<path class="k" d="M1.6 .43H2.4V.92H1.6ZM2.6 -1.03H3.4V-.91H2.6ZM3.6 .12H4.4V2.04H3.6Z"/>
<path class="m" d="M.6 -.85H1.4"/></g></g>
<text class="lb or" x="826" y="568">inositol</text></g>

<g id="palmitic-acid"><g transform="translate(957 509)"><rect class="fr" width="76" height="77"/><use href="#x76" y="77"/>
<path class="tk" d="M0 11.5h-3.5M0 30.6h-3.5M0 49.7h-3.5M0 68.8h-3.5"/>
<text class="yl"><tspan x="-5" y="11.5">2</tspan><tspan x="-5" y="30.6">1</tspan><tspan x="-5" y="49.7">0</tspan><tspan x="-5" y="68.8">-1</tspan></text>
<text class="cl" transform="translate(-33 38.5)rotate(-90)">Concentration</text>
<g class="d" transform="translate(0 49.7)scale(17.593 -19.1)translate(-.34 0)">
<path class="w" d="M1 .8V2.43M2 -1.15V-1.29M3 1.24V1.82M3 .1V-.5"/>
<path class="s" d="M.8 2.43H1.2M1.8 -1.29H2.2M2.8 1.82H3.2M2.8 -.5H3.2"/>
<path class="g" d="M.6 -.33H1.4V.8H.6ZM2.6 .1H3.4V1.24H2.6Z"/>
<path class="k" d="M1.6 -1.15H2.4V-.5H1.6ZM3.6 -.82H4.4V-.63H3.6Z"/>
<path class="m" d="M.6 .02H1.4M2.6 .58H3.4"/></g>
<circle class="o" cx="29.2" cy="16.7" r="2.2"/><circle class="o" cx="64.4" cy="42.6" r="2.2"/></g>
<text class="lb lt" x="984" y="627">palmitic acid</text></g>

<g id="LPA"><g transform="translate(1116 512)"><rect class="fr" width="76" height="75"/><use href="#x76" y="75"/>
<path class="tk" d="M0 9.5h-3.5M0 28.3h-3.5M0 47h-3.5M0 65.8h-3.5"/>
<text class="yl"><tspan x="-5" y="9.5">2</tspan><tspan x="-5" y="28.3">1</tspan><tspan x="-5" y="47">0</tspan><tspan x="-5" y="65.8">-1</tspan></text>
<text class="cl" transform="translate(-29 37.5)rotate(-90)">Concentration</text>
<g class="d" transform="translate(0 47)scale(17.593 -18.77)translate(-.34 0)">
<path class="w" d="M1 1.95V2.34M1 -.85V-.99M2 -.14V-.08M3 .34V.48M3 -.82V-1.24M4 -.02V-.32"/>
<path class="s" d="M.8 2.34H1.2M.8 -.99H1.2M1.8 -.08H2.2M2.8 .48H3.2M2.8 -1.24H3.2M3.8 -.32H4.2"/>
<path class="g" d="M.6 -.85H1.4V1.95H.6ZM2.6 -.82H3.4V.34H2.6Z"/>
<path class="k" d="M1.6 -1.33H2.4V-.14H1.6ZM3.6 -.02H4.4V.27H3.6Z"/>
<path class="m" d="M.6 1.46H1.4M2.6 -.27H3.4"/></g></g>
<text class="lb lt" x="1152" y="626">LPA(16:0/0:0)</text></g>

<g id="proline"><g transform="translate(992 718)"><rect class="fr" width="76" height="79"/><use href="#x76" y="79"/>
<path class="tk" d="M0 3h-3.5M0 14h-3.5M0 24.9h-3.5M0 35.9h-3.5M0 46.8h-3.5M0 57.75h-3.5M0 68.7h-3.5"/>
<text class="yl"><tspan x="-5" y="3">2.5</tspan><tspan x="-5" y="14">2.0</tspan><tspan x="-5" y="24.9">1.5</tspan><tspan x="-5" y="35.9">1.0</tspan><tspan x="-5" y="46.8">0.5</tspan><tspan x="-5" y="57.75">0.0</tspan><tspan x="-5" y="68.7">-0.5</tspan></text>
<text class="cl" transform="translate(-31 39.5)rotate(-90)">Concentration</text>
<g class="d" transform="translate(0 57.75)scale(17.593 -21.9)translate(-.34 0)">
<path class="w" d="M2 .46V.72M2 -.3V-.65M3 -.76V-.7M4 1.63V2.55M4 .95V.83"/>
<path class="s" d="M1.8 .72H2.2M1.8 -.65H2.2M2.8 -.7H3.2M3.8 2.55H4.2M3.8 .83H4.2"/>
<path class="k" d="M.6 -.82H1.4V-.74H.6ZM1.6 -.3H2.4V.46H1.6ZM2.6 -.84H3.4V-.76H2.6ZM3.6 .95H4.4V1.63H3.6Z"/></g></g>
<text class="lb red" x="1027" y="833">proline</text></g>

<g id="putrescine"><g transform="translate(1124 720)"><rect class="fr" width="76" height="77"/><use href="#x76" y="77"/>
<path class="tk" d="M0 5h-3.5M0 15.7h-3.5M0 26.4h-3.5M0 37h-3.5M0 47.7h-3.5M0 58.4h-3.5M0 69h-3.5"/>
<text class="yl"><tspan x="-5" y="5">2.0</tspan><tspan x="-5" y="15.7">1.5</tspan><tspan x="-5" y="26.4">1.0</tspan><tspan x="-5" y="37">0.5</tspan><tspan x="-5" y="47.7">0.0</tspan><tspan x="-5" y="58.4">-0.5</tspan><tspan x="-5" y="69">-1.0</tspan></text>
<text class="cl" transform="translate(-31 38.5)rotate(-90)">Concentration</text>
<g class="d" transform="translate(0 47.7)scale(17.593 -21.33)translate(-.34 0)">
<path class="w" d="M1 .72V1.02M3 1.95V2.08M4 -.19V.08M4 -.86V-1.01"/>
<path class="s" d="M.8 1.02H1.2M2.8 2.08H3.2M3.8 .08H4.2M3.8 -1.01H4.2"/>
<path class="g" d="M.6 .05H1.4V.72H.6ZM2.6 .8H3.4V1.95H2.6Z"/>
<path class="k" d="M1.6 -1.25H2.4V-.94H1.6ZM3.6 -.86H4.4V-.19H3.6Z"/>
<path class="m" d="M.6 .49H1.4M2.6 .91H3.4"/></g></g>
<text class="lb bl" x="1158" y="833">putrescine</text></g>

<g id="beta-alanine"><g transform="translate(50 848)"><rect class="fr" width="76" height="75"/><use href="#x76" y="75"/>
<path class="tk" d="M0 1.7h-3.5M0 13.75h-3.5M0 25.8h-3.5M0 37.85h-3.5M0 49.9h-3.5M0 61.95h-3.5M0 74h-3.5"/>
<text class="yl"><tspan x="-5" y="1.7">1.5</tspan><tspan x="-5" y="13.75">1.0</tspan><tspan x="-5" y="25.8">0.5</tspan><tspan x="-5" y="37.85">0.0</tspan><tspan x="-5" y="49.9">-0.5</tspan><tspan x="-5" y="61.95">-1.0</tspan><tspan x="-5" y="74">-1.5</tspan></text>
<text class="cl" transform="translate(-31 37.5)rotate(-90)">Concentration</text>
<g class="d" transform="translate(0 37.85)scale(17.593 -24.1)translate(-.34 0)">
<path class="w" d="M1 1.21V1.31M1 .13V-.84M2 -.96V-.79M3 .55V.49M4 .1V.17M4 -.91V-1.04"/>
<path class="s" d="M.8 1.31H1.2M.8 -.84H1.2M1.8 -.79H2.2M2.8 .49H3.2M3.8 .17H4.2M3.8 -1.04H4.2"/>
<path class="g" d="M.6 .13H1.4V1.21H.6ZM2.6 .55H3.4V1.46H2.6Z"/>
<path class="k" d="M1.6 -1.42H2.4V-.96H1.6ZM3.6 -.91H4.4V.1H3.6Z"/>
<path class="m" d="M.6 .73H1.4M2.6 1.07H3.4"/></g></g>
<text class="lb bl" x="80" y="958">β -alanine</text></g>

<g id="aspartate"><g transform="translate(237 829)"><rect class="fr" width="72" height="70"/><use href="#x72" y="70"/>
<path class="tk" d="M0 10.3h-3.5M0 24.3h-3.5M0 38.3h-3.5M0 52.3h-3.5M0 66.3h-3.5"/>
<text class="yl"><tspan x="-5" y="10.3">3</tspan><tspan x="-5" y="24.3">2</tspan><tspan x="-5" y="38.3">1</tspan><tspan x="-5" y="52.3">0</tspan><tspan x="-5" y="66.3">-1</tspan></text>
<text class="cl" transform="translate(-29 35)rotate(-90)">Concentration</text>
<g class="d" transform="translate(0 52.3)scale(16.667 -14)translate(-.34 0)">
<path class="w" d="M1 1.4V3.5M1 -.46V-.74M2 -.34V.5M3 .69V.86M3 -.07V-.14M4 .04V.33M4 -.79V-1.1"/>
<path class="s" d="M.8 3.5H1.2M.8 -.74H1.2M1.8 .5H2.2M2.8 .86H3.2M2.8 -.14H3.2M3.8 .33H4.2M3.8 -1.1H4.2"/>
<path class="g" d="M.6 -.46H1.4V1.4H.6ZM2.6 -.07H3.4V.69H2.6Z"/>
<path class="k" d="M1.6 -1.03H2.4V-.34H1.6ZM3.6 -.79H4.4V.04H3.6Z"/>
<path class="m" d="M.6 .26H1.4M2.6 .29H3.4"/></g></g>
<text class="lb bl" x="265" y="932">aspartate</text></g>

<g id="threonine"><g transform="translate(52 1077)"><rect class="fr" width="72" height="71"/><use href="#x72" y="71"/>
<path class="tk" d="M0 3.7h-3.5M0 14h-3.5M0 24.2h-3.5M0 34.5h-3.5M0 44.8h-3.5M0 55h-3.5M0 65.3h-3.5"/>
<text class="yl"><tspan x="-5" y="3.7">1.5</tspan><tspan x="-5" y="14">1.0</tspan><tspan x="-5" y="24.2">0.5</tspan><tspan x="-5" y="34.5">0.0</tspan><tspan x="-5" y="44.8">-0.5</tspan><tspan x="-5" y="55">-1.0</tspan><tspan x="-5" y="65.3">-1.5</tspan></text>
<text class="cl" transform="translate(-31 35.5)rotate(-90)">Concentration</text>
<g class="d" transform="translate(0 34.5)scale(16.667 -20.53)translate(-.34 0)">
<path class="w" d="M2 -.14V.35M2 -1.52V-1.58M3 1V1.21M4 1.4V1.57M4 .12V-.01"/>
<path class="s" d="M1.8 .35H2.2M1.8 -1.58H2.2M2.8 1.21H3.2M3.8 1.57H4.2M3.8 -.01H4.2"/>
<path class="g" d="M.6 -.77H1.4V-.33H.6ZM2.6 .32H3.4V1H2.6Z"/>
<path class="k" d="M1.6 -1.52H2.4V-.14H1.6ZM3.6 .12H4.4V1.4H3.6Z"/>
<path class="m" d="M.6 -.6H1.4M2.6 .8H3.4"/></g>
<circle class="o" cx="11" cy="24.6" r="2.2"/><circle class="o" cx="11" cy="68" r="2.2"/></g>
<text class="lb lt" x="83" y="1179">threonine</text></g>

<g id="isoleucine"><g transform="translate(215 1109)"><rect class="fr" width="68" height="69"/><use href="#x68" y="69"/>
<path class="tk" d="M0 7h-3.5M0 17.8h-3.5M0 28.6h-3.5M0 39.4h-3.5M0 50.2h-3.5M0 61h-3.5"/>
<text class="yl"><tspan x="-5" y="7">1.5</tspan><tspan x="-5" y="17.8">1.0</tspan><tspan x="-5" y="28.6">0.5</tspan><tspan x="-5" y="39.4">0.0</tspan><tspan x="-5" y="50.2">-0.5</tspan><tspan x="-5" y="61">-1.0</tspan></text>
<text class="cl" transform="translate(-31 34.5)rotate(-90)">Concentration</text>
<g class="d" transform="translate(0 39.4)scale(15.741 -21.6)translate(-.34 0)">
<path class="w" d="M1 -1.15V-1.26M2 .34V.54M2 -1.12V-1.3M3 .19V.08M3 1.65V1.7M4 .03V-.27"/>
<path class="s" d="M.8 -1.26H1.2M1.8 .54H2.2M1.8 -1.3H2.2M2.8 .08H3.2M2.8 1.7H3.2M3.8 -.27H4.2"/>
<path class="g" d="M.6 -1.15H1.4V-.77H.6ZM2.6 .19H3.4V1.65H2.6Z"/>
<path class="k" d="M1.6 -1.12H2.4V.34H1.6ZM3.6 .03H4.4V.7H3.6Z"/>
<path class="m" d="M.6 -.92H1.4M2.6 1.16H3.4"/></g>
<circle class="o" cx="57.6" cy="2.7" r="2.2"/></g>
<text class="lb bk" x="246" y="1213">isoleucine</text></g>

<g id="malic-acid"><g transform="translate(357 943)"><rect class="fr" width="76" height="74"/><use href="#x76" y="74"/>
<path class="tk" d="M0 8.7h-3.5M0 27h-3.5M0 45.3h-3.5M0 63.7h-3.5"/>
<text class="yl"><tspan x="-5" y="8.7">2</tspan><tspan x="-5" y="27">1</tspan><tspan x="-5" y="45.3">0</tspan><tspan x="-5" y="63.7">-1</tspan></text>
<text class="cl" transform="translate(-29 37)rotate(-90)">Concentration</text>
<g class="d" transform="translate(0 45.3)scale(17.593 -18.33)translate(-.34 0)">
<path class="w" d="M1 .78V1.36M1 -.6V-1.04M2 .09V.45M2 -1.24V-1.36M3 .27V.63M3 -.64V-.82M4 1.94V2.31"/>
<path class="s" d="M.8 1.36H1.2M.8 -1.04H1.2M1.8 .45H2.2M1.8 -1.36H2.2M2.8 .63H3.2M2.8 -.82H3.2M3.8 2.31H4.2"/>
<path class="g" d="M.6 -.6H1.4V.78H.6ZM2.6 -.64H3.4V.27H2.6Z"/>
<path class="k" d="M1.6 -1.24H2.4V.09H1.6ZM3.6 -.05H4.4V1.94H3.6Z"/>
<path class="m" d="M.6 .03H1.4M2.6 -.24H3.4"/></g></g>
<text class="lb bk" x="389" y="1053">malic acid</text></g>

<g id="citric-acid"><g transform="translate(638 800)"><rect class="fr" width="72" height="73"/><use href="#x72" y="73"/>
<path class="tk" d="M0 3h-3.5M0 13.2h-3.5M0 23.35h-3.5M0 33.5h-3.5M0 43.7h-3.5M0 53.9h-3.5M0 64.05h-3.5"/>
<text class="yl"><tspan x="-5" y="3">2.0</tspan><tspan x="-5" y="13.2">1.5</tspan><tspan x="-5" y="23.35">1.0</tspan><tspan x="-5" y="33.5">0.5</tspan><tspan x="-5" y="43.7">0.0</tspan><tspan x="-5" y="53.9">-0.5</tspan><tspan x="-5" y="64.05">-1.0</tspan></text>
<text class="cl" transform="translate(-31 36.5)rotate(-90)">Concentration</text>
<g class="d" transform="translate(0 43.7)scale(16.667 -20.35)translate(-.34 0)">
<path class="w" d="M1 -.18V-.03M2 1.16V1.95M2 .22V.15M3 -.72V-.65M4 1.66V1.8"/>
<path class="s" d="M.8 -.03H1.2M1.8 1.95H2.2M1.8 .15H2.2M2.8 -.65H3.2M3.8 1.8H4.2"/>
<path class="g" d="M.6 -.67H1.4V-.18H.6Z"/>
<path class="k" d="M1.6 .22H2.4V1.16H1.6ZM2.6 -.84H3.4V-.72H2.6ZM3.6 -1.34H4.4V1.66H3.6Z"/>
<path class="m" d="M.6 -.56H1.4"/></g></g>
<text class="lb red" x="667" y="909">citric acid</text></g>

<g id="isocitric-acid"><g transform="translate(797 887)"><rect class="fr" width="82" height="81"/><use href="#x82" y="81"/>
<path class="tk" d="M0 3h-3.5M0 14.2h-3.5M0 25.5h-3.5M0 36.7h-3.5M0 47.9h-3.5M0 59.1h-3.5M0 70.3h-3.5"/>
<text class="yl"><tspan x="-5" y="3">2.5</tspan><tspan x="-5" y="14.2">2.0</tspan><tspan x="-5" y="25.5">1.5</tspan><tspan x="-5" y="36.7">1.0</tspan><tspan x="-5" y="47.9">0.5</tspan><tspan x="-5" y="59.1">0.0</tspan><tspan x="-5" y="70.3">-0.5</tspan></text>
<text class="cl" transform="translate(-31 40.5)rotate(-90)">Concentration</text>
<g class="d" transform="translate(0 59.1)scale(18.981 -22.43)translate(-.34 0)">
<path class="w" d="M2 .39V.69M4 2.32V2.5"/>
<path class="s" d="M1.8 .69H2.2M3.8 2.5H4.2"/>
<path class="g" d="M.6 -.82H1.4V-.72H.6Z"/>
<path class="k" d="M1.6 -.02H2.4V.39H1.6ZM2.6 -.85H3.4V-.78H2.6ZM3.6 .61H4.4V2.32H3.6Z"/>
<path class="m" d="M.6 -.77H1.4"/></g></g>
<text class="lb red" x="830" y="1009">isocitric acid</text></g>

<g id="alpha-ketoglutaric-acid"><g transform="translate(786 1075)"><rect class="fr" width="76" height="77"/><use href="#x76" y="77"/>
<path class="tk" d="M0 5.7h-3.5M0 15.7h-3.5M0 25.7h-3.5M0 35.7h-3.5M0 45.7h-3.5M0 55.7h-3.5M0 65.7h-3.5M0 75.7h-3.5"/>
<text class="yl"><tspan x="-5" y="5.7">2.0</tspan><tspan x="-5" y="15.7">1.5</tspan><tspan x="-5" y="25.7">1.0</tspan><tspan x="-5" y="35.7">0.5</tspan><tspan x="-5" y="45.7">0.0</tspan><tspan x="-5" y="55.7">-0.5</tspan><tspan x="-5" y="65.7">-1.0</tspan><tspan x="-5" y="75.7">-1.5</tspan></text>
<text class="cl" transform="translate(-31 38.5)rotate(-90)">Concentration</text>
<g class="d" transform="translate(0 45.7)scale(17.593 -20)translate(-.34 0)">
<path class="w" d="M1 .09V-.47M2 -.63V-.55M2 -1.27V-1.35M3 1.32V1.48M3 .65V.33M4 -1.01V-1.05"/>
<path class="s" d="M.8 -.47H1.2M1.8 -.55H2.2M1.8 -1.35H2.2M2.8 1.48H3.2M2.8 .33H3.2M3.8 -1.05H4.2"/>
<path class="g" d="M.6 .09H1.4V.83H.6ZM2.6 .65H3.4V1.32H2.6Z"/>
<path class="k" d="M1.6 -1.27H2.4V-.63H1.6ZM3.6 -1.01H4.4V.12H3.6Z"/>
<path class="m" d="M.6 .45H1.4M2.6 .98H3.4"/></g>
<circle class="o" cx="11.6" cy="11.7" r="2.2"/></g>
<text class="lb bl" x="829" y="1188">α -ketoglutaric acid</text></g>

<g id="succinic-acid"><g transform="translate(607 1118)"><rect class="fr" width="72" height="73"/><use href="#x72" y="73"/>
<path class="tk" d="M0 5.3h-3.5M0 14.8h-3.5M0 24.3h-3.5M0 33.9h-3.5M0 43.4h-3.5M0 52.9h-3.5M0 62.5h-3.5M0 72h-3.5"/>
<text class="yl"><tspan x="-5" y="5.3">2.0</tspan><tspan x="-5" y="14.8">1.5</tspan><tspan x="-5" y="24.3">1.0</tspan><tspan x="-5" y="33.9">0.5</tspan><tspan x="-5" y="43.4">0.0</tspan><tspan x="-5" y="52.9">-0.5</tspan><tspan x="-5" y="62.5">-1.0</tspan><tspan x="-5" y="72">-1.5</tspan></text>
<text class="cl" transform="translate(-31 36.5)rotate(-90)">Concentration</text>
<g class="d" transform="translate(0 43.4)scale(16.667 -19.06)translate(-.34 0)">
<path class="w" d="M1 -.5V-.68M2 -1.12V-1.41M3 1.44V1.56M4 1.26V1.3M4 -.42V-.59"/>
<path class="s" d="M.8 -.68H1.2M1.8 -1.41H2.2M2.8 1.56H3.2M3.8 1.3H4.2M3.8 -.59H4.2"/>
<path class="g" d="M.6 -.5H1.4V.21H.6ZM2.6 -.54H3.4V1.44H2.6Z"/>
<path class="k" d="M1.6 -1.12H2.4V-.8H1.6ZM3.6 -.42H4.4V1.26H3.6Z"/>
<path class="m" d="M.6 -.33H1.4M2.6 .07H3.4"/></g>
<circle class="o" cx="11" cy="3.8" r="2.2"/><circle class="o" cx="27.7" cy="17.1" r="2.2"/></g>
<text class="lb bk" x="634" y="1225">succinic acid</text></g>

<g id="fumaric-acid"><g transform="translate(421 1115)"><rect class="fr" width="72" height="72"/><use href="#x72" y="72"/>
<path class="tk" d="M0 5h-3.5M0 18.75h-3.5M0 32.5h-3.5M0 46.25h-3.5M0 60h-3.5"/>
<text class="yl"><tspan x="-5" y="5">4</tspan><tspan x="-5" y="18.75">3</tspan><tspan x="-5" y="32.5">2</tspan><tspan x="-5" y="46.25">1</tspan><tspan x="-5" y="60">0</tspan></text>
<text class="cl" transform="translate(-28 36)rotate(-90)">Concentration</text>
<g class="d" transform="translate(0 60)scale(16.667 -13.75)translate(-.34 0)">
<path class="w" d="M1 -.25V-.3M3 .41V1.12M4 -.12V.29"/>
<path class="s" d="M.8 -.3H1.2M2.8 1.12H3.2M3.8 .29H4.2"/>
<path class="g" d="M.6 -.25H1.4V.95H.6ZM2.6 -.44H3.4V.41H2.6Z"/>
<path class="k" d="M1.6 -.68H2.4V-.48H1.6ZM3.6 -.61H4.4V-.12H3.6Z"/>
<path class="m" d="M.6 .15H1.4M2.6 -.07H3.4"/></g>
<circle class="o" cx="11" cy="2.5" r="2.2"/><circle class="o" cx="27.7" cy="59.3" r="2.2"/></g>
<text class="lb lt" x="451" y="1221">fumaric acid</text></g>

<g id="glutamic-acid"><g transform="translate(975 897)"><rect class="fr" width="82" height="81"/><use href="#x82" y="81"/>
<path class="tk" d="M0 20.4h-3.5M0 41.7h-3.5M0 63h-3.5"/>
<text class="yl"><tspan x="-5" y="20.4">1</tspan><tspan x="-5" y="41.7">0</tspan><tspan x="-5" y="63">-1</tspan></text>
<text class="cl" transform="translate(-31 40.5)rotate(-90)">Concentration</text>
<g class="d" transform="translate(0 41.7)scale(18.981 -21.33)translate(-.34 0)">
<path class="w" d="M2 -.56V-.3M2 -1.65V-1.72M3 1.14V1.81M3 .45V.14M4 -.8V-.95"/>
<path class="s" d="M1.8 -.3H2.2M1.8 -1.72H2.2M2.8 1.81H3.2M2.8 .14H3.2M3.8 -.95H4.2"/>
<path class="g" d="M.6 .14H1.4V.92H.6ZM2.6 .45H3.4V1.14H2.6Z"/>
<path class="k" d="M1.6 -1.65H2.4V-.56H1.6ZM3.6 -.8H4.4V.91H3.6Z"/>
<path class="m" d="M.6 .3H1.4M2.6 .95H3.4"/></g>
<circle class="o" cx="12.5" cy="72" r="2.2"/></g>
<text class="lb lt" x="1015" y="1014">glutamic acid</text></g>

<g id="4-aminobutyrate"><g transform="translate(1081 1066)"><rect class="fr" width="82" height="81"/><use href="#x82" y="81"/>
<path class="tk" d="M0 5.7h-3.5M0 17.5h-3.5M0 29.4h-3.5M0 41.2h-3.5M0 53h-3.5M0 64.9h-3.5M0 76.7h-3.5"/>
<text class="yl"><tspan x="-5" y="5.7">1.5</tspan><tspan x="-5" y="17.5">1.0</tspan><tspan x="-5" y="29.4">0.5</tspan><tspan x="-5" y="41.2">0.0</tspan><tspan x="-5" y="53">-0.5</tspan><tspan x="-5" y="64.9">-1.0</tspan><tspan x="-5" y="76.7">-1.5</tspan></text>
<text class="cl" transform="translate(-31 40.5)rotate(-90)">Concentration</text>
<g class="d" transform="translate(0 41.2)scale(18.981 -23.67)translate(-.34 0)">
<path class="w" d="M1 .94V1.25M2 -1.03V-.89M2 -1.39V-1.53M3 1.15V1.6M3 .59V.49M4 -.37V-.23M4 -.87V-1.1"/>
<path class="s" d="M.8 1.25H1.2M1.8 -.89H2.2M1.8 -1.53H2.2M2.8 1.6H3.2M2.8 .49H3.2M3.8 -.23H4.2M3.8 -1.1H4.2"/>
<path class="g" d="M.6 .59H1.4V.94H.6ZM2.6 .59H3.4V1.15H2.6Z"/>
<path class="k" d="M1.6 -1.39H2.4V-1.03H1.6ZM3.6 -.87H4.4V-.37H3.6Z"/>
<path class="m" d="M.6 .87H1.4M2.6 1.04H3.4"/></g></g>
<text class="lb bl" x="1111" y="1183">4-aminobutyrate</text></g>

<g id="fructose"><text class="lb bk" x="849" y="100">fructose</text></g>
<g id="3PGA"><text class="lb bl" x="601" y="435">3PGA</text></g>
<g id="oxaloacetate"><text class="lb bk" x="475" y="877">oxaloacetate</text></g>
<g id="homoserine"><text class="lb bk" x="154" y="1017">homoserine</text></g>
<g id="arginine"><text class="lb bk" x="1162" y="934">arginine</text></g>
</svg>
